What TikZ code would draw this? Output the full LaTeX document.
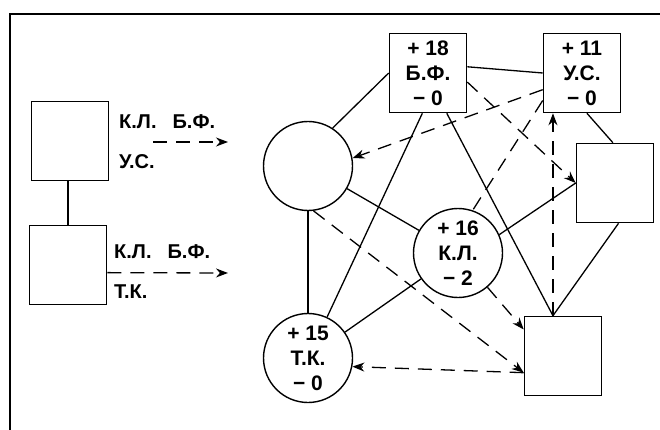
\documentclass[tikz,border=0pt]{standalone}
\usepackage{fontspec}
\setmainfont{Liberation Sans}
\usetikzlibrary{arrows.meta}

\begin{document}
\begin{tikzpicture}[x=1pt,y=-1pt,
		boite/.style={draw,line width=1.6pt,minimum width=77pt,minimum height=79pt,inner sep=0pt,align=center,font=\bfseries\fontsize{21}{25}\selectfont},
		rond/.style={draw,circle,line width=1.4pt,minimum size=89pt,inner sep=0pt,align=center,font=\bfseries\fontsize{21}{25}\selectfont},
		lien/.style={line width=1.3pt},
		tiret/.style={line width=1.3pt,dash pattern=on 14pt off 9pt},
		fleche/.style={tiret,-{Stealth[length=12pt,width=9pt]}},
		legende/.style={font=\bfseries\fontsize{20}{22}\selectfont,anchor=west,inner sep=0pt}]
	\useasboundingbox (0,0) rectangle (660,430);
	\draw[line width=2.2pt] (10,430) -- (10,14) -- (660,14);
	% legende
	\node[boite] (lh) at (70,141) {};
	\node[boite] (lb) at (68,265) {};
	\draw[lien,line width=1.8pt] (lh.south -| lb) -- (lb.north);
	\node[legende] (kh) at (119,122) {К.Л.\hspace{0.8em}Б.Ф.};
	\node[legende] (uh) at (119,162) {У.С.};
	\coordinate (ah) at (153,142);
	\coordinate (fh) at (228,142);
	\draw[fleche] (ah) -- (fh);
	\node[legende] (kb) at (114,252) {К.Л.\hspace{0.8em}Б.Ф.};
	\node[legende] (tb) at (114,292) {Т.К.};
	\coordinate (fb) at (228,273);
	\draw[fleche] (lb.-11) -- (fb);
	% graphe
	\node[boite] (bf) at (428,73) {+ 18\\Б.Ф.\\− 0};
	\node[boite] (us) at (582,73) {+ 11\\У.С.\\− 0};
	\node[rond] (lc) at (308,166) {};
	\node[boite] (rh) at (615,183) {};
	\node[rond] (kl) at (458,253) {+ 16\\К.Л.\\− 2};
	\node[rond] (tk) at (308,358) {+ 15\\Т.К.\\− 0};
	\node[boite] (rb) at (563,356) {};
	% liens pleins
	\draw[lien] (bf.9) -- (us.west);
	\draw[lien] (bf.west) -- (lc.57);
	\draw[lien] (bf.-98) -- (tk.65);
	\draw[lien] (bf.-65) -- (rb.104);
	\draw[lien] (us.-83) -- (rh.93);
	\draw[lien] (rh.-85) -- (rb.104);
	\draw[lien] (lc) -- (tk);
	\draw[lien] (lc) -- (kl);
	\draw[lien] (kl) -- (tk);
	\draw[lien] (kl.24) -- (rh.west);
	% liens en tirets
	\draw[tiret] (us.215) -- (kl.71);
	\draw[fleche] (us.203) -- (lc.10);
	\draw[fleche] (bf.-13) -- (rh.west);
	\draw[fleche] (rb.104) -- (rb.104 |- us.south);
	\draw[fleche] (kl) -- (rb.146);
	\draw[fleche] (lc.-83) -- (rb.203);
	\draw[fleche] (rb.203) -- (tk.-11);
\end{tikzpicture}
\end{document}
